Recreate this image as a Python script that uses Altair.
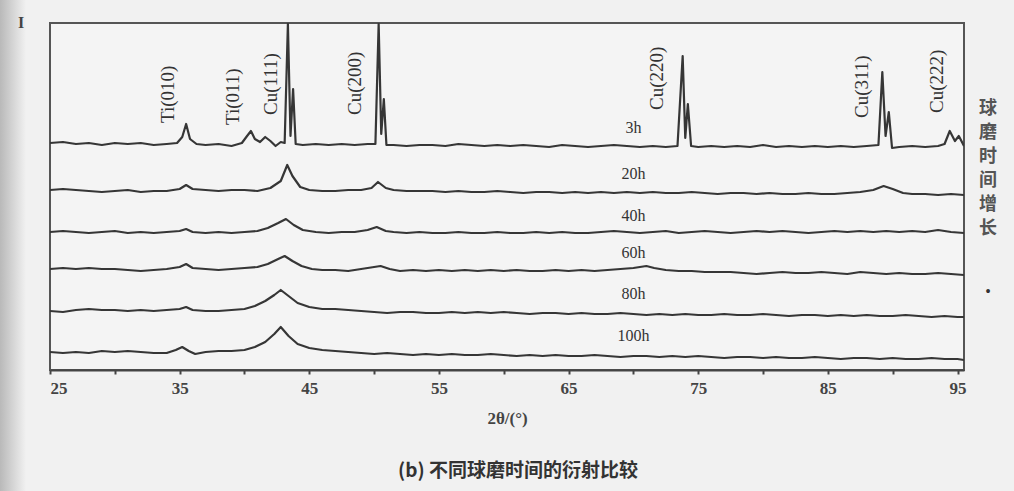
import altair as alt
import pandas as pd

# 2θ (degrees) and relative intensity (a.u.) for each milling time
scan_3h = [(25, 1), (26, 2), (27, 0), (28, 1), (29, -1), (30, 1), (31, 0), (32, 1), (33, -1), (34, 0),
           (34.8, 1), (35.2, 7), (35.5, 20), (35.8, 5), (36.3, 0), (37, -1), (38, 0), (39, -2),
           (39.8, 1), (40.2, 8), (40.5, 13), (40.8, 5), (41.2, 2), (41.6, 7), (42.0, 3), (42.4, -2),
           (42.8, 2), (43.1, 1), (43.35, 120), (43.55, 8), (43.75, 55), (43.95, 0), (44.5, -1),
           (45.5, 0), (46.5, -1), (47.5, 0), (48.5, -1), (49.5, 0), (50.1, 0), (50.35, 120),
           (50.55, 10), (50.75, 45), (50.95, -1), (51.5, -1), (52.5, -2), (53.5, -1), (54.5, -1),
           (55.5, -2), (56.5, 0), (57.5, -1), (58.5, -2), (59.5, -1), (60.5, -2), (61.5, -1),
           (62.5, -2), (63.5, -3), (64.5, -1), (65.5, -2), (66.5, -3), (67.5, -2), (68.5, -1),
           (69.5, -2), (70.5, -3), (71.5, -2), (72.5, -3), (73.4, -2), (73.8, 88), (74.0, 6),
           (74.2, 40), (74.45, -2), (75, -3), (76, -2), (77, -3), (78, -2), (79, -3), (80, -1),
           (81, -3), (82, -2), (83, -3), (84, -2), (85, -3), (86, -2), (87, -3), (88, -2),
           (88.9, -1), (89.2, 72), (89.45, 8), (89.7, 32), (89.95, -4), (90.5, -3), (91.5, -2),
           (92.5, -3), (93.5, -2), (94.0, 0), (94.4, 13), (94.8, 3), (95.1, 8), (95.5, -2)]

scan_20h = [(25, 0), (26, 1), (27, 0), (28, -1), (29, -2), (30, -1), (31, 0), (32, -2), (33, -1),
            (34, -1), (35, 1), (35.5, 5), (36, 1), (37, 0), (38, -1), (39, 0), (40, 0), (41, -1),
            (42, 2), (42.8, 9), (43.3, 25), (43.7, 14), (44.3, 3), (45, 0), (46, -1), (47, -1),
            (48, 0), (49, 0), (49.8, 2), (50.3, 8), (50.9, 2), (51.5, 0), (52.5, -1), (53.5, -1),
            (54.5, -1), (55.5, -2), (56.5, -1), (57.5, -2), (58.5, -2), (59.5, -1), (60.5, -2),
            (61.5, -3), (62.5, -2), (63.5, -2), (64.5, -3), (65.5, -2), (66.5, -3), (67.5, -2),
            (68.5, -3), (69.5, -2), (70.5, -3), (71.5, -2), (72.5, -3), (73.5, -3), (74.5, -2),
            (75.5, -3), (76.5, -4), (77.5, -3), (78.5, -3), (79.5, -4), (80.5, -3), (81.5, -4),
            (82.5, -4), (83.5, -3), (84.5, -4), (85.5, -4), (86.5, -3), (87.5, -2), (88.5, 0),
            (89.3, 4), (90, 1), (90.8, -3), (91.5, -4), (92.5, -4), (93.5, -5), (94.5, -4),
            (95.5, -5)]

scan_40h = [(25, 0), (26, 1), (27, 0), (28, -1), (29, 0), (30, 1), (31, -1), (32, 0), (33, -1),
            (34, 0), (35, 1), (35.5, 3), (36, 0), (37, -1), (38, 0), (39, -1), (40, 0), (41, 1),
            (41.8, 4), (42.6, 9), (43.2, 13), (43.8, 7), (44.5, 2), (45.5, 0), (46.5, -1),
            (47.5, 0), (48.5, 0), (49.5, 2), (50.2, 5), (50.9, 1), (51.5, 0), (52.5, -1),
            (53.5, 0), (54.5, -1), (55.5, -1), (56.5, 0), (57.5, -1), (58.5, -1), (59.5, 0),
            (60.5, -1), (61.5, -1), (62.5, 0), (63.5, -1), (64.5, 0), (65.5, -1), (66.5, -1),
            (67.5, 0), (68.5, 1), (69.5, 0), (70.5, -1), (71.5, 0), (72.5, 1), (73.5, -1),
            (74.5, 0), (75.5, 1), (76.5, 0), (77.5, -1), (78.5, 0), (79.5, 1), (80.5, 0),
            (81.5, 1), (82.5, 0), (83.5, -1), (84.5, 0), (85.5, 1), (86.5, 0), (87.5, 1),
            (88.5, 0), (89.5, 1), (90.5, 0), (91.5, 1), (92.5, 0), (93.5, 2), (94.5, 0),
            (95.5, -1)]

scan_60h = [(25, 0), (26, 1), (27, 0), (28, 1), (29, 0), (30, 0), (31, -1), (32, -2), (33, -1),
            (34, 0), (35, 2), (35.5, 5), (36, 1), (37, 0), (38, -1), (39, 0), (40, 1), (41, 2),
            (41.8, 5), (42.6, 10), (43.1, 13), (43.7, 8), (44.4, 3), (45.2, 0), (46, -1),
            (47, -1), (48, -2), (49, 0), (50, 2), (50.5, 3), (51.2, 0), (52, -2), (53, -1),
            (54, -2), (55, -1), (56, -2), (57, -1), (58, -2), (59, -1), (60, -2), (61, -1),
            (62, -2), (63, -2), (64, -1), (65, -2), (66, -1), (67, -2), (68, -1), (69, 0), (70, 1),
            (71, 3), (71.6, 1), (72.5, -1), (73.5, -2), (74.5, -2), (75.5, -3), (76.5, -3),
            (77.5, -3), (78.5, -4), (79.5, -5), (80.5, -4), (81.5, -3), (82.5, -4), (83.5, -4),
            (84.5, -3), (85.5, -4), (86.5, -5), (87.5, -3), (88.5, -4), (89.5, -5), (90.5, -4),
            (91.5, -5), (92.5, -5), (93.5, -4), (94.5, -5), (95.5, -6)]

scan_80h = [(25, -1), (26, -2), (27, 0), (28, 1), (29, 0), (30, 0), (31, -1), (32, 0), (33, -1),
            (34, 0), (35, 1), (35.5, 3), (36, 0), (37, -1), (38, -1), (39, 0), (40, 1), (40.8, 4),
            (41.6, 9), (42.3, 15), (42.8, 20), (43.4, 14), (44.1, 7), (45, 3), (46, 1), (47, 1),
            (48, 0), (49, -1), (50, -2), (51, -3), (52, -2), (53, -2), (54, -3), (55, -3),
            (56, -2), (57, -3), (58, -2), (59, -3), (60, -2), (61, -3), (62, -4), (63, -3),
            (64, -3), (65, -4), (66, -3), (67, -4), (68, -4), (69, -3), (70, -4), (71, -5),
            (72, -4), (73, -5), (74, -4), (75, -5), (76, -5), (77, -4), (78, -5), (79, -5),
            (80, -4), (81, -5), (82, -6), (83, -5), (84, -5), (85, -6), (86, -5), (87, -6),
            (88, -5), (89, -6), (90, -6), (91, -5), (92, -6), (93, -7), (94, -6), (95, -7),
            (95.5, -7)]

scan_100h = [(25, 0), (26, -1), (27, 0), (28, -1), (29, 1), (30, 0), (31, 1), (32, 0), (33, -1),
             (34, -1), (34.7, 2), (35.2, 5), (35.7, 1), (36.2, -2), (37, 0), (38, 1), (39, 1),
             (40, 2), (40.8, 5), (41.6, 10), (42.3, 18), (42.8, 25), (43.4, 16), (44.1, 8),
             (45, 4), (46, 2), (47, 1), (48, 0), (49, -1), (50, -2), (51, -1), (52, -2), (53, -3),
             (54, -2), (55, -3), (56, -2), (57, -3), (58, -3), (59, -2), (60, -3), (61, -4),
             (62, -3), (63, -4), (64, -3), (65, -4), (66, -4), (67, -3), (68, -4), (69, -5),
             (70, -4), (71, -4), (72, -5), (73, -4), (74, -5), (75, -4), (76, -5), (77, -6),
             (78, -5), (79, -5), (80, -6), (81, -5), (82, -6), (83, -6), (84, -5), (85, -6),
             (86, -7), (87, -6), (88, -6), (89, -7), (90, -6), (91, -7), (92, -7), (93, -6),
             (94, -7), (95, -7), (95.5, -8)]

series_names = ["3h", "20h", "40h", "60h", "80h", "100h"]
series_scans = [scan_3h, scan_20h, scan_40h, scan_60h, scan_80h, scan_100h]
series_offsets = [226, 180, 138, 101, 60, 18]   # vertical stacking of the patterns

peak_names = ["Ti(010)", "Ti(011)", "Cu(111)", "Cu(200)", "Cu(220)", "Cu(311)", "Cu(222)"]
peak_label_tt = [34.1, 39.1, 42.05, 48.5, 71.8, 87.6, 93.4]
peak_label_y = [247, 245, 255, 255, 260, 252, 257]

x_ticks = [25, 30, 35, 40, 45, 50, 55, 60, 65, 70, 75, 80, 85, 90, 95]

INK = "#363636"
SERIF = "Liberation Serif"
CJK = "Noto Sans CJK SC"

rows = []
for name, scan, off in zip(series_names, series_scans, series_offsets):
    for i, (tt, inten) in enumerate(scan):
        rows.append({"series": name, "idx": i, "tt": tt, "y": off + inten})
patterns = pd.DataFrame(rows)

x_scale = alt.Scale(domain=[25, 95.5], nice=False, zero=False)
y_scale = alt.Scale(domain=[0, 347], nice=False, zero=False)

lines = alt.Chart(patterns).mark_line(
    color=INK, strokeWidth=2.2, clip=True, strokeJoin="round"
).encode(
    x=alt.X("tt:Q", scale=x_scale,
            axis=alt.Axis(values=x_ticks, title="2θ/(°)", grid=False,
                          labelExpr="datum.value % 10 == 5 ? datum.label : ''",
                          tickSize=4, tickWidth=2, tickColor="#444",
                          domainColor="#444", domainWidth=2,
                          labelFont=SERIF, labelFontSize=17, labelFontWeight="bold",
                          labelColor="#444", labelPadding=6,
                          titleFont=SERIF, titleFontSize=17, titleFontWeight="bold",
                          titleColor="#444", titlePadding=14)),
    y=alt.Y("y:Q", scale=y_scale, axis=None),
    detail="series:N",
    order="idx:Q",
)

peaks_df = pd.DataFrame({"name": peak_names, "tt": peak_label_tt, "y": peak_label_y})
peak_text = alt.Chart(peaks_df).mark_text(
    angle=270, align="left", baseline="middle", font=SERIF, fontSize=19, color="#333"
).encode(
    x=alt.X("tt:Q", scale=x_scale), y=alt.Y("y:Q", scale=y_scale), text="name:N"
)

names_df = pd.DataFrame({"name": series_names,
                         "y": [o + 16 for o in series_offsets],
                         "tt": [70.0] * len(series_names)})
series_text = alt.Chart(names_df).mark_text(
    align="center", baseline="middle", font=SERIF, fontSize=16, color="#333"
).encode(
    x=alt.X("tt:Q", scale=x_scale), y=alt.Y("y:Q", scale=y_scale), text="name:N"
)

one = pd.DataFrame({"k": [0]})

side_note = alt.Chart(one).mark_text(
    align="center", baseline="top", font=CJK, fontSize=18, fontWeight="bold",
    color="#555", lineBreak="\n", lineHeight=24
).encode(x=alt.value(938), y=alt.value(77), text=alt.value("球\n磨\n时\n间\n增\n长"))

side_arrow = alt.Chart(one).mark_text(
    align="center", baseline="middle", font=SERIF, fontSize=16, color="#333"
).encode(x=alt.value(938), y=alt.value(269), text=alt.value("•"))

y_label = alt.Chart(one).mark_text(
    align="center", baseline="middle", font=SERIF, fontSize=16, fontWeight="bold", color="#444"
).encode(x=alt.value(-29), y=alt.value(0), text=alt.value("I"))

caption = alt.Chart(one).mark_text(
    align="center", baseline="middle", font=CJK, fontSize=19, fontWeight="bold", color="#333"
).encode(x=alt.value(468), y=alt.value(448), text=alt.value("(b) 不同球磨时间的衍射比较"))

edge_shade = alt.Chart(one).mark_rect(
    color=alt.Gradient(gradient="linear",
                       stops=[alt.GradientStop(color="#b9b9b9", offset=0),
                              alt.GradientStop(color="#f1f1f1", offset=1)],
                       x1=0, x2=1, y1=0, y2=0)
).encode(x=alt.value(-50), x2=alt.value(-24), y=alt.value(-23), y2=alt.value(468))

chart = alt.layer(
    edge_shade, lines, peak_text, series_text, side_note, side_arrow, y_label, caption
).properties(
    width=914, height=347,
    autosize=alt.AutoSizeParams(type="none"),
    padding={"left": 50, "top": 23, "right": 50, "bottom": 121},
    background="#f1f1f1",
).configure_view(
    stroke="#555", strokeWidth=2, fill="#f4f4f4"
)

chart.save("out.html", embed_options={"renderer": "svg", "actions": False})
